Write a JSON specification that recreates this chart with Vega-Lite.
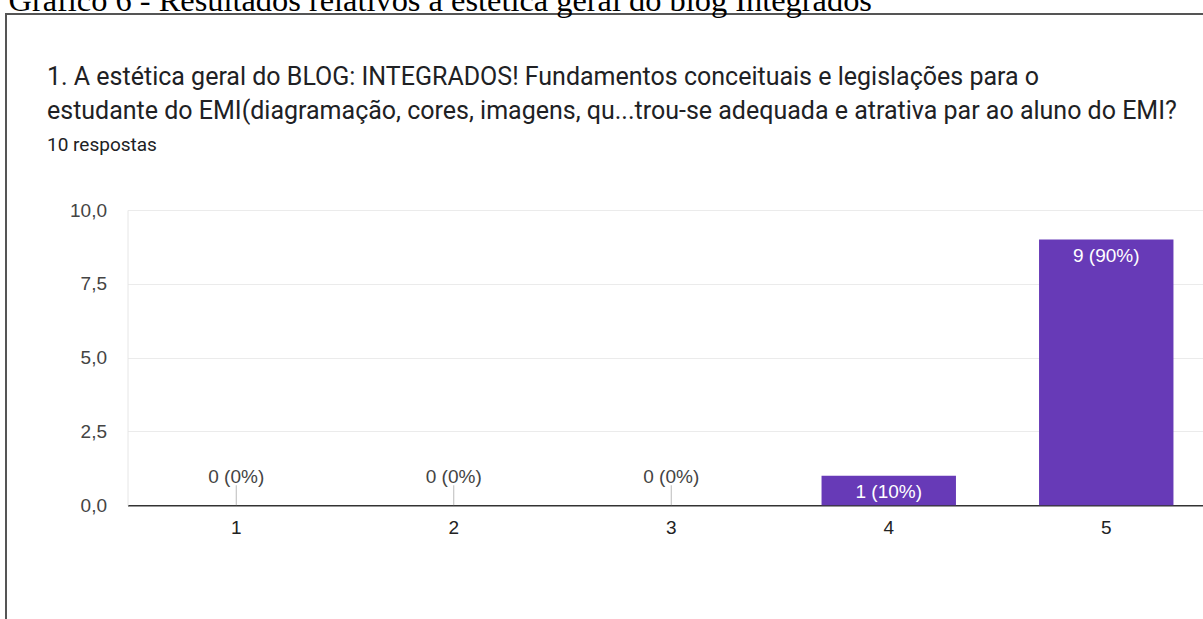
{
  "$schema": "https://vega.github.io/schema/vega-lite/v6.json",
  "autosize": {"type": "none"},
  "width": 1197,
  "height": 605,
  "padding": {"left": 6, "top": 14, "right": 0, "bottom": 0},
  "background": "white",
  "config": {
    "view": {"stroke": "#555555", "strokeWidth": 2, "strokeDash": [1197, 1802, 605]}
  },
  "title": {
    "text": [
      "1. A estética geral do BLOG: INTEGRADOS! Fundamentos conceituais e legislações para o",
      "estudante do EMI(diagramação, cores, imagens, qu...trou-se adequada e atrativa par ao aluno do EMI?"
    ],
    "subtitle": "10 respostas",
    "anchor": "start",
    "frame": "group",
    "offset": -171,
    "dx": 41,
    "font": "Roboto",
    "fontSize": 25,
    "fontWeight": "normal",
    "color": "#202124",
    "lineHeight": 34,
    "subtitleFont": "Roboto",
    "subtitleFontSize": 19,
    "subtitleColor": "#202124",
    "subtitlePadding": 12
  },
  "data": {
    "values": [
      {"nota": "1", "respostas": 0, "rotulo": "0 (0%)"},
      {"nota": "2", "respostas": 0, "rotulo": "0 (0%)"},
      {"nota": "3", "respostas": 0, "rotulo": "0 (0%)"},
      {"nota": "4", "respostas": 1, "rotulo": "1 (10%)"},
      {"nota": "5", "respostas": 9, "rotulo": "9 (90%)"}
    ]
  },
  "encoding": {
    "x": {
      "field": "nota",
      "type": "ordinal",
      "sort": null,
      "scale": {"range": [121.5, 1209], "paddingInner": 0.382, "paddingOuter": 0.191},
      "axis": {
        "orient": "bottom",
        "offset": -113.7,
        "domainColor": "#333333",
        "domainWidth": 1.6,
        "ticks": false,
        "labelAngle": 0,
        "labelFont": "Liberation Sans",
        "labelFontSize": 19,
        "labelColor": "#222222",
        "labelPadding": 13,
        "title": null
      }
    },
    "y": {
      "field": "respostas",
      "type": "quantitative",
      "scale": {"domain": [0, 10], "range": [491.3, 196], "nice": false},
      "axis": {
        "orient": "left",
        "offset": -121.5,
        "values": [0, 2.5, 5, 7.5, 10],
        "labelExpr": "replace(format(datum.value, '.1f'), '.', ',')",
        "domain": true,
        "domainColor": "#e6e6e6",
        "domainWidth": 1,
        "ticks": false,
        "grid": true,
        "gridColor": "#ebebeb",
        "gridWidth": 1,
        "labelFont": "Liberation Sans",
        "labelFontSize": 19,
        "labelColor": "#444444",
        "labelPadding": 21,
        "title": "Gráfico 6 - Resultados relativos à estética geral do blog Integrados",
        "titleAngle": 0,
        "titleX": -119.5,
        "titleY": -4,
        "titleAlign": "left",
        "titleBaseline": "alphabetic",
        "titleFont": "Liberation Serif",
        "titleFontSize": 32.4,
        "titleFontWeight": "normal",
        "titleColor": "#000000"
      }
    }
  },
  "layer": [
    {"mark": {"type": "bar", "color": "#673ab7"}},
    {
      "transform": [{"filter": "datum.respostas == 0"}],
      "mark": {"type": "tick", "orient": "vertical", "size": 20, "thickness": 1, "yOffset": -10, "color": "#9e9e9e"}
    },
    {
      "transform": [{"filter": "datum.respostas == 0"}],
      "mark": {"type": "text", "dy": -22, "baseline": "alphabetic", "font": "Liberation Sans", "fontSize": 19, "color": "#444444"},
      "encoding": {"text": {"field": "rotulo"}}
    },
    {
      "transform": [{"filter": "datum.respostas > 0"}],
      "mark": {"type": "text", "dy": 22, "baseline": "alphabetic", "font": "Liberation Sans", "fontSize": 19, "color": "#ffffff"},
      "encoding": {"text": {"field": "rotulo"}}
    }
  ]
}
